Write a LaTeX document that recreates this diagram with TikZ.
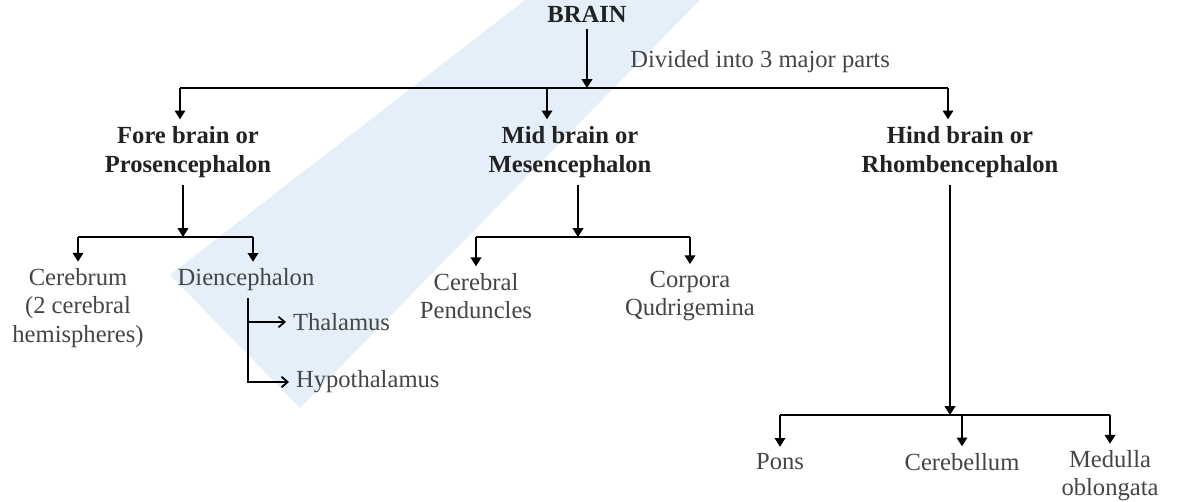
\documentclass[tikz,border=0pt]{standalone}
\usepackage{fontspec}
\setmainfont{Liberation Serif}
\usepackage{tikz}
\usetikzlibrary{
  arrows.meta,
  positioning,
  calc,
}
\definecolor{headgray}{HTML}{222222}
\definecolor{leafgray}{HTML}{454545}
\definecolor{markblue}{HTML}{E4EFF9}

\begin{document}
\begin{tikzpicture}[
    x=0.02cm, y=-0.02cm,
    part/.style={font=\bfseries\fontsize{14}{16.5}\selectfont, text=headgray,
                 align=center, inner sep=1pt, outer sep=3pt},
    leaf/.style={font=\fontsize{14}{16}\selectfont, text=leafgray,
                 align=center, inner sep=1pt, outer sep=3pt},
    ->, >={Triangle[width=6pt,length=5pt]}, line width=1pt,
    open/.style={-{Straight Barb[width=6pt,length=3.5pt]}},
  ]
  \useasboundingbox (0,0) rectangle (1189,502);
  \fill[markblue, draw=none] (525,0) -- (700,0) -- (300,408) -- (170,275) -- cycle;

  \node[part] (brain) at (587,14)  {BRAIN};
  \node[leaf, anchor=west, inner sep=0pt] (note) at (625,62) {Divided into 3 major parts};

  \node[part] (fore) at (188,152) {Fore brain or\\Prosencephalon};
  \node[part] (mid)  at (570,152) {Mid brain or\\Mesencephalon};
  \node[part] (hind) at (960,152) {Hind brain or\\Rhombencephalon};

  \node[leaf] (cerebrum) at (78,308)  {Cerebrum\\(2 cerebral\\hemispheres)};
  \node[leaf] (dien)     at (246,280) {Diencephalon};
  \node[leaf, anchor=west] (thal) at (286,322) {Thalamus};
  \node[leaf, anchor=west] (hypo) at (289,382) {Hypothalamus};

  \node[leaf] (pend) at (476,296) {Cerebral\\Penduncles};
  \node[leaf] (corp) at (690,296) {Corpora\\Qudrigemina};

  \node[leaf] (pons)    at (780,462)  {Pons};
  \node[leaf] (cbl)     at (962,462)  {Cerebellum};
  \node[leaf] (medulla) at (1110,476) {Medulla\\oblongata};

  \coordinate (j0) at (587,88);
  \coordinate (l0) at (180,88);
  \coordinate (m0) at (547,88);
  \coordinate (r0) at (948,88);
  \coordinate (fj) at (183,237);
  \coordinate (fl) at (78,237);
  \coordinate (fr) at (253,237);
  \coordinate (mj) at (578,237);
  \coordinate (ml) at (476,237);
  \coordinate (mr) at (690,237);
  \coordinate (hj) at (950,415);
  \coordinate (hl) at (780,415);
  \coordinate (hm) at (962,415);
  \coordinate (hr) at (1110,415);

  \draw (brain) -- (j0);
  \draw[-] (l0) -- (r0);
  \draw (l0) -- (l0 |- fore.north);
  \draw (m0) -- (m0 |- mid.north);
  \draw (r0) -- (r0 |- hind.north);

  \draw (fore.south -| fj) -- (fj);
  \draw[-] (fl) -- (fr);
  \draw (fl) -- (cerebrum);
  \draw (fr) -- (fr |- dien.north);
  \draw[open] (dien.south -| 248,0) |- (thal.west);
  \draw[open] (dien.south -| 248,0) |- (hypo.west);

  \draw (mid.south -| mj) -- (mj);
  \draw[-] (ml) -- (mr);
  \draw (ml) -- (pend);
  \draw (mr) -- (corp);

  \draw (hind.south -| hj) -- (hj);
  \draw[-] (hl) -- (hr);
  \draw (hl) -- (pons);
  \draw (hm) -- (cbl);
  \draw (hr) -- (medulla);
\end{tikzpicture}
\end{document}
